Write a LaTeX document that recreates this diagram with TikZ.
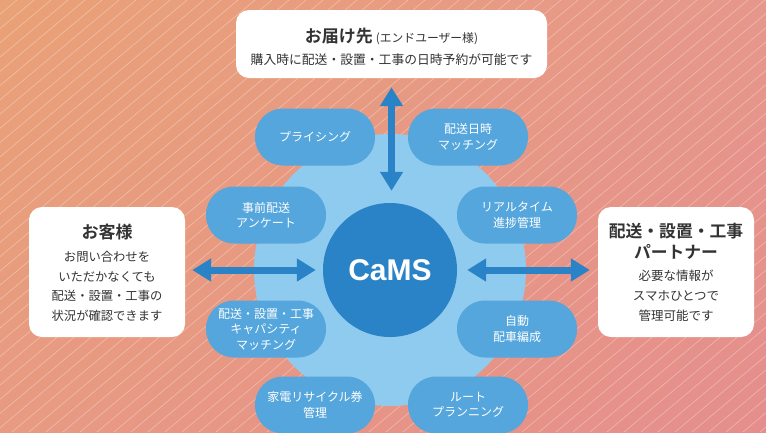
\documentclass[tikz,border=0pt]{standalone}
\usepackage{fontspec}
\setmainfont{Noto Sans CJK JP}[BoldFont={Noto Sans CJK JP Bold}]
\newfontfamily\camsfont{Liberation Sans}[BoldFont={Liberation Sans Bold}]
\usetikzlibrary{arrows.meta,shadings}
\definecolor{bgUL}{HTML}{E9A176}
\definecolor{bgUR}{HTML}{E6978B}
\definecolor{bgLL}{HTML}{E89A82}
\definecolor{bgLR}{HTML}{E58E8C}
\definecolor{lightring}{HTML}{8FCBEF}
\definecolor{pillblue}{HTML}{55A6DC}
\definecolor{darkblue}{HTML}{2A83C7}
\definecolor{txtdark}{HTML}{333333}
\newcommand\ptitle{\bfseries\fontsize{16.8}{22}\selectfont}
\tikzset{
  wbox/.style={fill=white, rounded corners=13pt, inner sep=0pt},
  pill/.style={fill=pillblue, rounded corners=28pt, minimum width=120pt, minimum height=57pt,
    inner sep=0pt, text=white, align=center, font=\fontsize{12}{15.5}\selectfont},
  dbl/.style={draw=darkblue, line width=7pt,
    {Triangle[length=19pt,width=22pt]}-{Triangle[length=19pt,width=22pt]}},
  boxtext/.style={align=center, text=txtdark, inner sep=0pt}
}
\begin{document}
\begin{tikzpicture}[x=1pt,y=-1pt]
\useasboundingbox (0,0) rectangle (766,432);
\clip (0,0) rectangle (766,432);
% background
\shade[upper left=bgUL, upper right=bgUR, lower left=bgLL, lower right=bgLR] (0,0) rectangle (766,432);
\foreach \k in {0,...,75} {
  \draw[white, opacity=0.35, line width=0.6pt] (\k*17, 0) -- ++(-515, 432);
}
% circles
\fill[lightring] (390,270) circle[radius=136pt];
\node[circle, fill=darkblue, minimum size=134pt, inner sep=0pt, text=white,
  font=\camsfont\bfseries\fontsize{30}{30}\selectfont] (cams) at (390,270) {CaMS};
% pills
\node[pill] (p1) at (315,137) {プライシング};
\node[pill] (p2) at (468,137) {配送日時\\マッチング};
\node[pill] (p3) at (266,215) {事前配送\\アンケート};
\node[pill] (p4) at (517,215) {リアルタイム\\進捗管理};
\node[pill] (p5) at (266,329) {配送・設置・工事\\キャパシティ\\マッチング};
\node[pill] (p6) at (517,329) {自動\\配車編成};
\node[pill] (p7) at (315,405) {家電リサイクル券\\管理};
\node[pill] (p8) at (468,405) {ルート\\プランニング};
% white boxes
\node[wbox, minimum width=311pt, minimum height=68pt] (dest) at (391.5,44) {};
\node[boxtext, font=\fontsize{12.8}{22}\selectfont] (destT) at (391.5,47)
  {{\fontsize{17}{22}\selectfont\bfseries お届け先} {\fontsize{11.8}{22}\selectfont (エンドユーザー様)}\\
   購入時に配送・設置・工事の日時予約が可能です};
\node[wbox, minimum width=156pt, minimum height=130pt] (cust) at (107,272) {};
\node[boxtext, font=\fontsize{12.3}{19.7}\selectfont] (custT) at (107,273)
  {{\fontsize{17}{19.7}\selectfont\bfseries お客様}\\[3pt]
   お問い合わせを\\いただかなくても\\配送・設置・工事の\\状況が確認できます};
\node[wbox, minimum width=156pt, minimum height=130pt] (partner) at (676,272) {};
\node[boxtext, font=\fontsize{12.5}{20}\selectfont] (partnerT) at (676,272.5)
  {{\ptitle 配送・設置・工事}\\[1pt]{\ptitle パートナー}\\[2pt]
   必要な情報が\\スマホひとつで\\管理可能です};
% arrows
\draw[dbl, shorten <=9pt, shorten >=12pt] (dest.south) -- (dest.south |- cams.north);
\draw[dbl, shorten <=7pt, shorten >=7pt] (cams.west -| cust.east) -- (cams.west);
\draw[dbl, shorten <=10pt, shorten >=8pt] (cams.east) -- (cams.east -| partner.west);
\end{tikzpicture}
\end{document}
